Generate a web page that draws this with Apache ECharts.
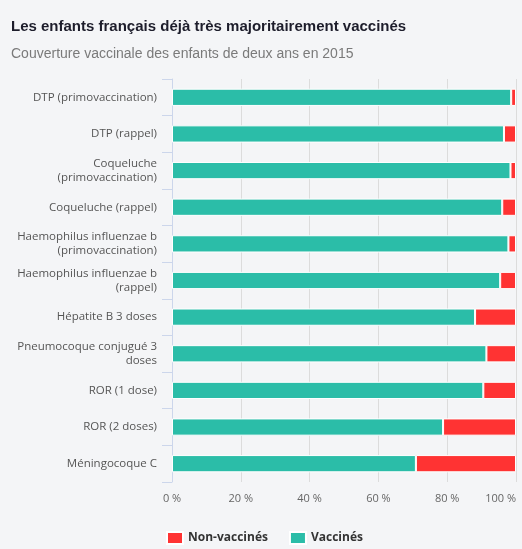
<!DOCTYPE html>
<html>
<head>
<meta charset="utf-8">
<script src="https://cdn.jsdelivr.net/npm/echarts@6/dist/echarts.min.js"></script>
<style>
  html, body { margin: 0; padding: 0; background: #f4f5f7; }
  #chart { width: 522px; height: 549px; }
</style>
</head>
<body>
<div id="chart"></div>
<script>
// catégories (de haut en bas)
const categories = [
    'DTP (primovaccination)',
    'DTP (rappel)',
    'Coqueluche\n(primovaccination)',
    'Coqueluche (rappel)',
    'Haemophilus influenzae b\n(primovaccination)',
    'Haemophilus influenzae b\n(rappel)',
    'Hépatite B 3 doses',
    'Pneumocoque conjugué 3\ndoses',
    'ROR (1 dose)',
    'ROR (2 doses)',
    'Méningocoque C'
]
// couverture vaccinale en %
const vaccines = [98.6, 96.5, 98.4, 96.0, 97.8, 95.4, 88.1, 91.4, 90.5, 78.8, 70.9]
const nonVaccines = [1.4, 3.5, 1.6, 4.0, 2.2, 4.6, 11.9, 8.6, 9.5, 21.2, 29.1]
const xTicks = [0, 20, 40, 60, 80, 100]

let myChart = echarts.init(document.getElementById('chart'))

let option = {
    backgroundColor: '#f4f5f7',
    animation: false,
    title: [
        {
            text: 'Les enfants français déjà très majoritairement vaccinés',
            left: 6,
            top: 14,
            textStyle: {
                fontFamily: 'Liberation Sans',
                fontSize: 15,
                fontWeight: 'bold',
                color: '#1d1d2b'
            }
        },
        {
            text: 'Couverture vaccinale des enfants de deux ans en 2015',
            left: 6,
            top: 42,
            textStyle: {
                fontFamily: 'Liberation Sans',
                fontSize: 14,
                fontWeight: 'normal',
                color: '#7a7a7a'
            }
        }
    ],
    legend: {
        data: ['Non-vaccinés', 'Vaccinés'],
        left: 161,
        top: 526,
        itemWidth: 16,
        itemHeight: 12,
        itemGap: 21,
        icon: 'rect',
        textStyle: {
            fontFamily: 'Open Sans',
            fontSize: 12,
            fontWeight: 'bold',
            color: '#333'
        }
    },
    grid: {
        left: 172,
        right: 6,
        top: 79,
        bottom: 67,
        outerBoundsMode: 'none',
        containLabel: false
    },
    xAxis: {
        type: 'value',
        min: 0,
        max: 100,
        interval: 20,
        axisLine: { show: false },
        axisTick: { show: false },
        splitLine: {
            show: true,
            lineStyle: { color: '#dcdcdc', width: 1 }
        },
        axisLabel: {
            margin: 11,
            fontFamily: 'Open Sans',
            fontSize: 11,
            color: '#666',
            alignMaxLabel: 'right',
            formatter: v => xTicks.includes(v) ? v + ' %' : ''
        }
    },
    yAxis: {
        type: 'category',
        inverse: true,
        data: categories,
        axisLine: {
            show: true,
            lineStyle: { color: '#ccd6eb' }
        },
        axisTick: {
            show: true,
            length: 10,
            lineStyle: { color: '#ccd6eb' }
        },
        axisLabel: {
            margin: 15,
            fontFamily: 'Open Sans',
            fontSize: 11.5,
            lineHeight: 14,
            color: '#555',
            align: 'right'
        }
    },
    series: [
        {
            name: 'Vaccinés',
            type: 'bar',
            stack: 'total',
            barWidth: '47%',
            itemStyle: { color: '#2bbda8', borderColor: '#ffffff', borderWidth: 1 },
            data: vaccines
        },
        {
            name: 'Non-vaccinés',
            type: 'bar',
            stack: 'total',
            barWidth: '47%',
            itemStyle: { color: '#ff3333', borderColor: '#ffffff', borderWidth: 1 },
            data: nonVaccines
        }
    ]
}

myChart.setOption(option)
</script>
</body>
</html>
